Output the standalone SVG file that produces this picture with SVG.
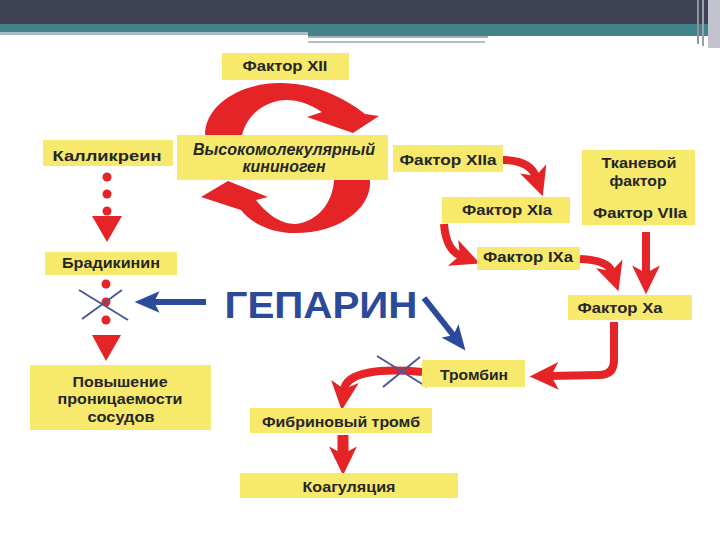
<svg xmlns="http://www.w3.org/2000/svg" width="720" height="540" viewBox="0 0 720 540">
<defs>
<style>
.box{fill:#f6e96b}
.t{font-family:"Liberation Sans",Arial,sans-serif;font-size:14px;font-weight:bold;fill:#262626;text-anchor:middle}
.ti{font-family:"Liberation Sans",Arial,sans-serif;font-size:16px;font-weight:bold;font-style:italic;fill:#262626;text-anchor:middle}
.red{fill:none;stroke:#e42426;stroke-width:8;marker-end:url(#rh)}
.redfill{fill:#e42426}
.blue{fill:none;stroke:#2c4a9a;stroke-width:6;marker-end:url(#bh)}
.cross{stroke:#4a5896;stroke-width:2;fill:none}
</style>
<marker id="rh" markerUnits="userSpaceOnUse" markerWidth="30" markerHeight="30" viewBox="0 0 28 28" refX="8" refY="14" orient="auto">
<path d="M0,1 L27,14 L0,27 L7,14 Z" fill="#e42426"/>
</marker>
<marker id="bh" markerUnits="userSpaceOnUse" markerWidth="26" markerHeight="26" viewBox="0 0 24 24" refX="6" refY="12" orient="auto">
<path d="M0,2 L23,12 L0,22 L5,12 Z" fill="#2c4a9a"/>
</marker>
</defs>
<rect width="720" height="540" fill="#ffffff"/>
<g id="header">
<rect x="0" y="0" width="720" height="24" fill="#3f4254"/>
<rect x="0" y="24" width="720" height="9" fill="#45838a"/>
<rect x="0" y="32" width="308" height="3" fill="#a9bcc3"/>
<rect x="308" y="33" width="412" height="3" fill="#45838a"/>
<rect x="308" y="36" width="180" height="2" fill="#9fb3b8"/>
<rect x="308" y="41" width="177" height="2" fill="#b4bcc4"/>
<rect x="708" y="0" width="12" height="48" fill="#c3c3cf"/>
<rect x="697" y="0" width="2" height="44" fill="#8c93a0"/>
<rect x="702" y="0" width="2" height="46" fill="#9aa0ac"/>
</g>
<g id="cycle">
<path class="redfill" d="M205,135 C205,105 240,83 280,83 C315,83 345,98 365,114 L379,116 L353,133 L307,117 L322,112 C310,104 298,100 287,100 C268,100 248,112 242,135 Z"/>
<path class="redfill" d="M370,180 C372,208 340,233 295,233 C270,233 250,222 241,210 L201,197 L228,181 L268,197 L256,200 C266,213 280,224 295,224 C318,222 333,202 334,180 Z"/>
</g>
<g id="connectors">
<path class="red" d="M503,160 Q530,160 536,177"/>
<path class="red" d="M444,224 Q446,250 461,256"/>
<path class="red" d="M580,259 Q608,260 612,272"/>
<path class="red" d="M646,232 L646,274"/>
<path class="red" d="M614,322 L614,360 Q614,375 599,375 L550,376"/>
<path class="red" d="M422,372 C380,368 346,372 344,390"/>
<path class="red" style="stroke-width:11" d="M343,435 L343,455"/>
<circle class="redfill" cx="107" cy="177" r="4.5"/>
<circle class="redfill" cx="107" cy="194" r="4.5"/>
<circle class="redfill" cx="107" cy="211" r="4.5"/>
<polygon class="redfill" points="92,216 122,216 107,242"/>
<circle class="redfill" cx="106" cy="284" r="4.5"/>
<circle class="redfill" cx="106" cy="302" r="4.5"/>
<circle class="redfill" cx="106" cy="320" r="4.5"/>
<polygon class="redfill" points="92,335 121,335 106,361"/>
<path class="blue" d="M206,302 L153,302"/>
<path class="blue" d="M424,298 L454,336"/>
<path class="cross" d="M79,290 L128,320 M122,290 L82,319"/>
<path class="cross" d="M377,356 L427,387 M420,357 L383,387"/>
</g>
<g id="n-f12"><rect class="box" x="222" y="53" width="127" height="27"/><text class="t" x="285" y="71" textLength="85" lengthAdjust="spacingAndGlyphs">Фактор XII</text></g>
<g id="n-kininogen"><rect class="box" x="177" y="135" width="211" height="45"/><text class="ti" x="284" y="155" textLength="182" lengthAdjust="spacingAndGlyphs">Высокомолекулярный</text><text class="ti" x="284" y="172" textLength="83" lengthAdjust="spacingAndGlyphs">кининоген</text></g>
<g id="n-kallikrein"><rect class="box" x="43" y="140" width="130" height="26"/><text class="t" x="107" y="161" textLength="109" lengthAdjust="spacingAndGlyphs">Калликреин</text></g>
<g id="n-bradykinin"><rect class="box" x="45" y="252" width="132" height="23"/><text class="t" x="111" y="268" textLength="98" lengthAdjust="spacingAndGlyphs">Брадикинин</text></g>
<g id="n-permeability"><rect class="box" x="30" y="365" width="181" height="65"/><text class="t" x="120" y="387" textLength="95" lengthAdjust="spacingAndGlyphs">Повышение</text><text class="t" x="120" y="404" textLength="125" lengthAdjust="spacingAndGlyphs">проницаемости</text><text class="t" x="121" y="422" textLength="67" lengthAdjust="spacingAndGlyphs">сосудов</text></g>
<g id="n-f12a"><rect class="box" x="393" y="145" width="110" height="27"/><text class="t" x="448" y="165" textLength="97" lengthAdjust="spacingAndGlyphs">Фактор XIIa</text></g>
<g id="n-f11a"><rect class="box" x="442" y="197" width="128" height="26"/><text class="t" x="507" y="215" textLength="90" lengthAdjust="spacingAndGlyphs">Фактор XIa</text></g>
<g id="n-f9a"><rect class="box" x="477" y="247" width="103" height="23"/><text class="t" x="528" y="262" textLength="90" lengthAdjust="spacingAndGlyphs">Фактор IXa</text></g>
<g id="n-tissue"><rect class="box" x="582" y="150" width="113" height="75"/><text class="t" x="639" y="168" textLength="75" lengthAdjust="spacingAndGlyphs">Тканевой</text><text class="t" x="638" y="186" textLength="57" lengthAdjust="spacingAndGlyphs">фактор</text><text class="t" x="640" y="218" textLength="94" lengthAdjust="spacingAndGlyphs">Фактор VIIa</text></g>
<g id="n-f10a"><rect class="box" x="568" y="295" width="124" height="25"/><text class="t" x="620" y="313" textLength="85" lengthAdjust="spacingAndGlyphs">Фактор Xa</text></g>
<g id="n-thrombin"><rect class="box" x="422" y="360" width="103" height="27"/><text class="t" x="474" y="380" textLength="68" lengthAdjust="spacingAndGlyphs">Тромбин</text></g>
<g id="n-fibrin"><rect class="box" x="250" y="408" width="182" height="25"/><text class="t" x="341" y="427" textLength="158" lengthAdjust="spacingAndGlyphs">Фибриновый тромб</text></g>
<g id="n-coag"><rect class="box" x="240" y="473" width="218" height="25"/><text class="t" x="349" y="492" textLength="93" lengthAdjust="spacingAndGlyphs">Коагуляция</text></g>
<g id="n-heparin"><text x="321" y="318" font-family="'Liberation Sans',Arial,sans-serif" font-size="37" font-weight="bold" fill="#2c4a9a" text-anchor="middle" textLength="193" lengthAdjust="spacingAndGlyphs">ГЕПАРИН</text></g>
</svg>
